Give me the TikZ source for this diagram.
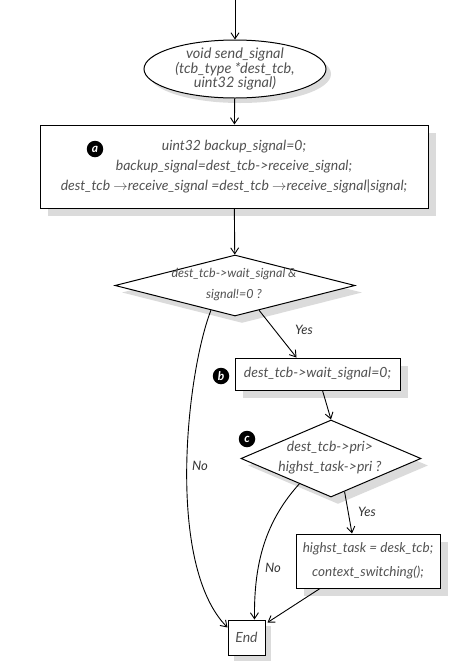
\documentclass[tikz,border=0pt]{standalone}
\usepackage{fontspec}
\setmainfont{Lato}
\usetikzlibrary{shapes.geometric,arrows.meta,shadows,calc}
\begin{document}
\begin{tikzpicture}[x=1pt,y=-1pt,
  base/.style={draw=black, line width=1pt, fill=white,
    general shadow={fill=black!14, shadow xshift=#1, shadow yshift=-#1}},
  base/.default=8pt,
  txtfont/.style={font=\itshape\fontsize{14}{20}\selectfont, text=black!68, align=center},
  txt/.style={txtfont, inner sep=0pt},
  arr/.style={-{Straight Barb[length=6pt,width=8pt]}, line width=0.9pt},
  badge/.style={circle, fill=black, text=white, font=\bfseries\itshape\fontsize{12}{12}\selectfont, inner sep=0pt, minimum size=16.5pt},
  lbl/.style={font=\itshape\fontsize{13}{15}\selectfont, text=black!80, inner sep=0pt}]
\useasboundingbox (0,0) rectangle (474,665);

% start ellipse
\node[ellipse, base=5pt, txtfont, font=\itshape\fontsize{14.5}{14.5}\selectfont, inner sep=-4pt, minimum width=182, minimum height=58] (start) at (235,69) {void send\_signal\\(tcb\_type *dest\_tcb,\\uint32 signal)};

% box a
\node[rectangle, base, txtfont, inner sep=0pt, minimum width=388, minimum height=83] (boxa) at (234,166.5) {uint32 backup\_signal=0;\\backup\_signal=dest\_tcb->receive\_signal;\\dest\_tcb $\rightarrow$receive\_signal =dest\_tcb $\rightarrow$receive\_signal|signal;};
\node[badge] (ba) at (95,149) {a};

% diamond 1
\node[diamond, base=7pt, inner sep=0pt, minimum width=240, minimum height=61] (d1) at (235,285.5) {};
\node[txt, font=\itshape\fontsize{12.5}{21}\selectfont] (d1t) at (234,285) {dest\_tcb->wait\_signal \&\\signal!=0 ?};

% box b
\node[rectangle, base, txtfont, inner sep=0pt, minimum width=165, minimum height=32] (boxb) at (317.5,374) {dest\_tcb->wait\_signal=0;};
\node[badge] (bb) at (221,376) {b};

% diamond 2
\node[diamond, base=7pt, inner sep=0pt, minimum width=180, minimum height=77] (d2) at (331,458.5) {};
\node[txt] (d2t) at (330,458) {dest\_tcb->pri>\\highst\_task->pri ?};
\node[badge] (bc) at (247,439) {c};

% box d
\node[rectangle, base, txtfont, inner sep=0pt, minimum width=144, minimum height=54, font=\itshape\fontsize{13.5}{24}\selectfont] (boxd) at (368,561) {highst\_task = desk\_tcb;\\context\_switching();};

% End
\node[rectangle, base=6pt, txtfont, inner sep=0pt, minimum width=37, minimum height=35] (endn) at (246.5,637.5) {End};

% connectors
\coordinate (top) at (235,0);
\draw[arr] (top) -- (start);
\draw[arr] (start) -- (boxa);
\draw[arr] (boxa) -- (d1);
\draw[arr] ($(d1.south)!0.2!(d1.east)$) -- ([xshift=-21pt]boxb.north);
\draw[arr] ([xshift=5pt]boxb.south) -- (d2.north);
\draw[arr] ($(d2.south)!0.15!(d2.east)$) -- ([xshift=-16pt]boxd.north);
\draw[arr] ([xshift=-48pt]boxd.south) -- ([xshift=2pt,yshift=-3pt]endn.north east);
\draw[arr] ($(d1.south)!0.2!(d1.west)$) .. controls (186,375) and (166,565) .. ([yshift=-8pt]endn.north west);
\draw[arr] ($(d2.south)!0.35!(d2.west)$) .. controls (262,525) and (254,570) .. ([xshift=8pt]endn.north);

% labels
\node[lbl] (yes1) at (304,330) {Yes};
\node[lbl] (no1) at (200,466) {No};
\node[lbl] (no2) at (273,568) {No};
\node[lbl] (yes2) at (367,512) {Yes};
\end{tikzpicture}
\end{document}
